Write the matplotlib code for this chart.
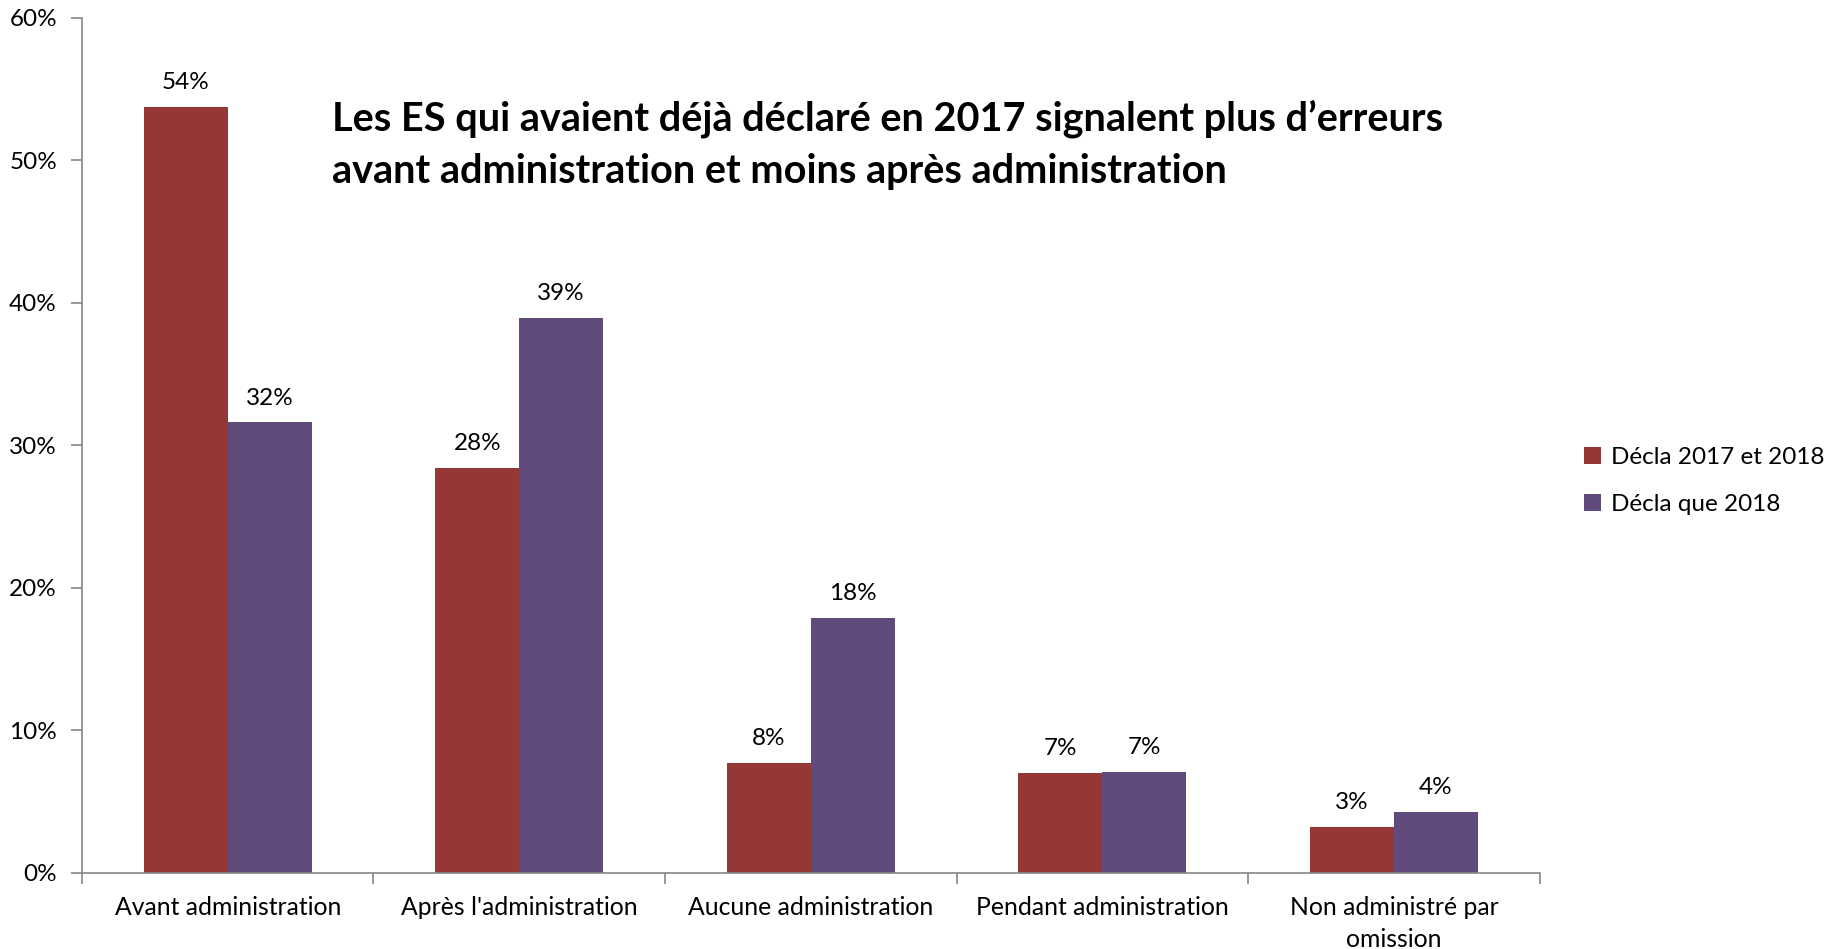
import matplotlib
matplotlib.use("Agg")
import matplotlib.pyplot as plt
import numpy as np
from matplotlib.ticker import FixedLocator, NullFormatter

plt.rcParams['font.family'] = ['Lato', 'DejaVu Sans']

categories = ["Avant administration", "Après l'administration", "Aucune administration",
              "Pendant administration", "Non administré par\nomission"]
series_names = ["Décla 2017 et 2018", "Décla que 2018"]
decla_2017_2018 = [53.7, 28.4, 7.7, 7.0, 3.2]
decla_que_2018 = [31.6, 38.9, 17.9, 7.1, 4.3]
yticks = [0, 10, 20, 30, 40, 50, 60]
title = "Les ES qui avaient déjà déclaré en 2017 signalent plus d’erreurs\navant administration et moins après administration"

colors = ["#953735", "#604A7B"]
fig = plt.figure(figsize=(18.29, 9.49), dpi=100)
ax = fig.add_axes([0.0448, 0.0801, 0.797, 0.9014])

x = np.arange(len(categories))
w = 0.288
b1 = ax.bar(x - w/2, decla_2017_2018, w, color=colors[0], label=series_names[0])
b2 = ax.bar(x + w/2, decla_que_2018, w, color=colors[1], label=series_names[1])

for bars, vals in ((b1, decla_2017_2018), (b2, decla_que_2018)):
    for r, v in zip(bars, vals):
        ax.annotate(f"{round(v):d}%", (r.get_x() + r.get_width()/2, v),
                    xytext=(0, 10), textcoords="offset points",
                    ha="center", va="bottom", fontsize=17.5)

ax.set_xlim(-0.5, len(categories) - 0.5)
ax.set_ylim(0, 60)
ax.set_yticks(yticks)
ax.set_yticklabels([f"{t}%" for t in yticks], fontsize=17.5)
ax.xaxis.set_major_locator(FixedLocator(np.arange(-0.5, len(categories), 1.0)))
ax.xaxis.set_major_formatter(NullFormatter())
for i, c in enumerate(categories):
    ax.text(i, -1.6, c, ha="center", va="top", fontsize=17.8, linespacing=1.5)

for s in ("top", "right"):
    ax.spines[s].set_visible(False)
for s in ("left", "bottom"):
    ax.spines[s].set_color("#868686")
    ax.spines[s].set_linewidth(1.2)
ax.tick_params(axis="both", direction="out", length=8, color="#868686", width=1.2)
ax.tick_params(axis="y", pad=10)

fig.text(332/1829, 1 - 99/949, title, ha="left", va="top", fontsize=28.5,
         fontweight="bold", linespacing=1.5)

leg = fig.legend(handles=[b1, b2], labels=series_names, loc="center left",
                 bbox_to_anchor=(1590/1829 - 0.015, 1 - 481/949), frameon=False,
                 fontsize=17.5, handlelength=0.7, handleheight=0.7,
                 handletextpad=0.4, labelspacing=1.1)

fig.savefig("out.png", dpi=100)
